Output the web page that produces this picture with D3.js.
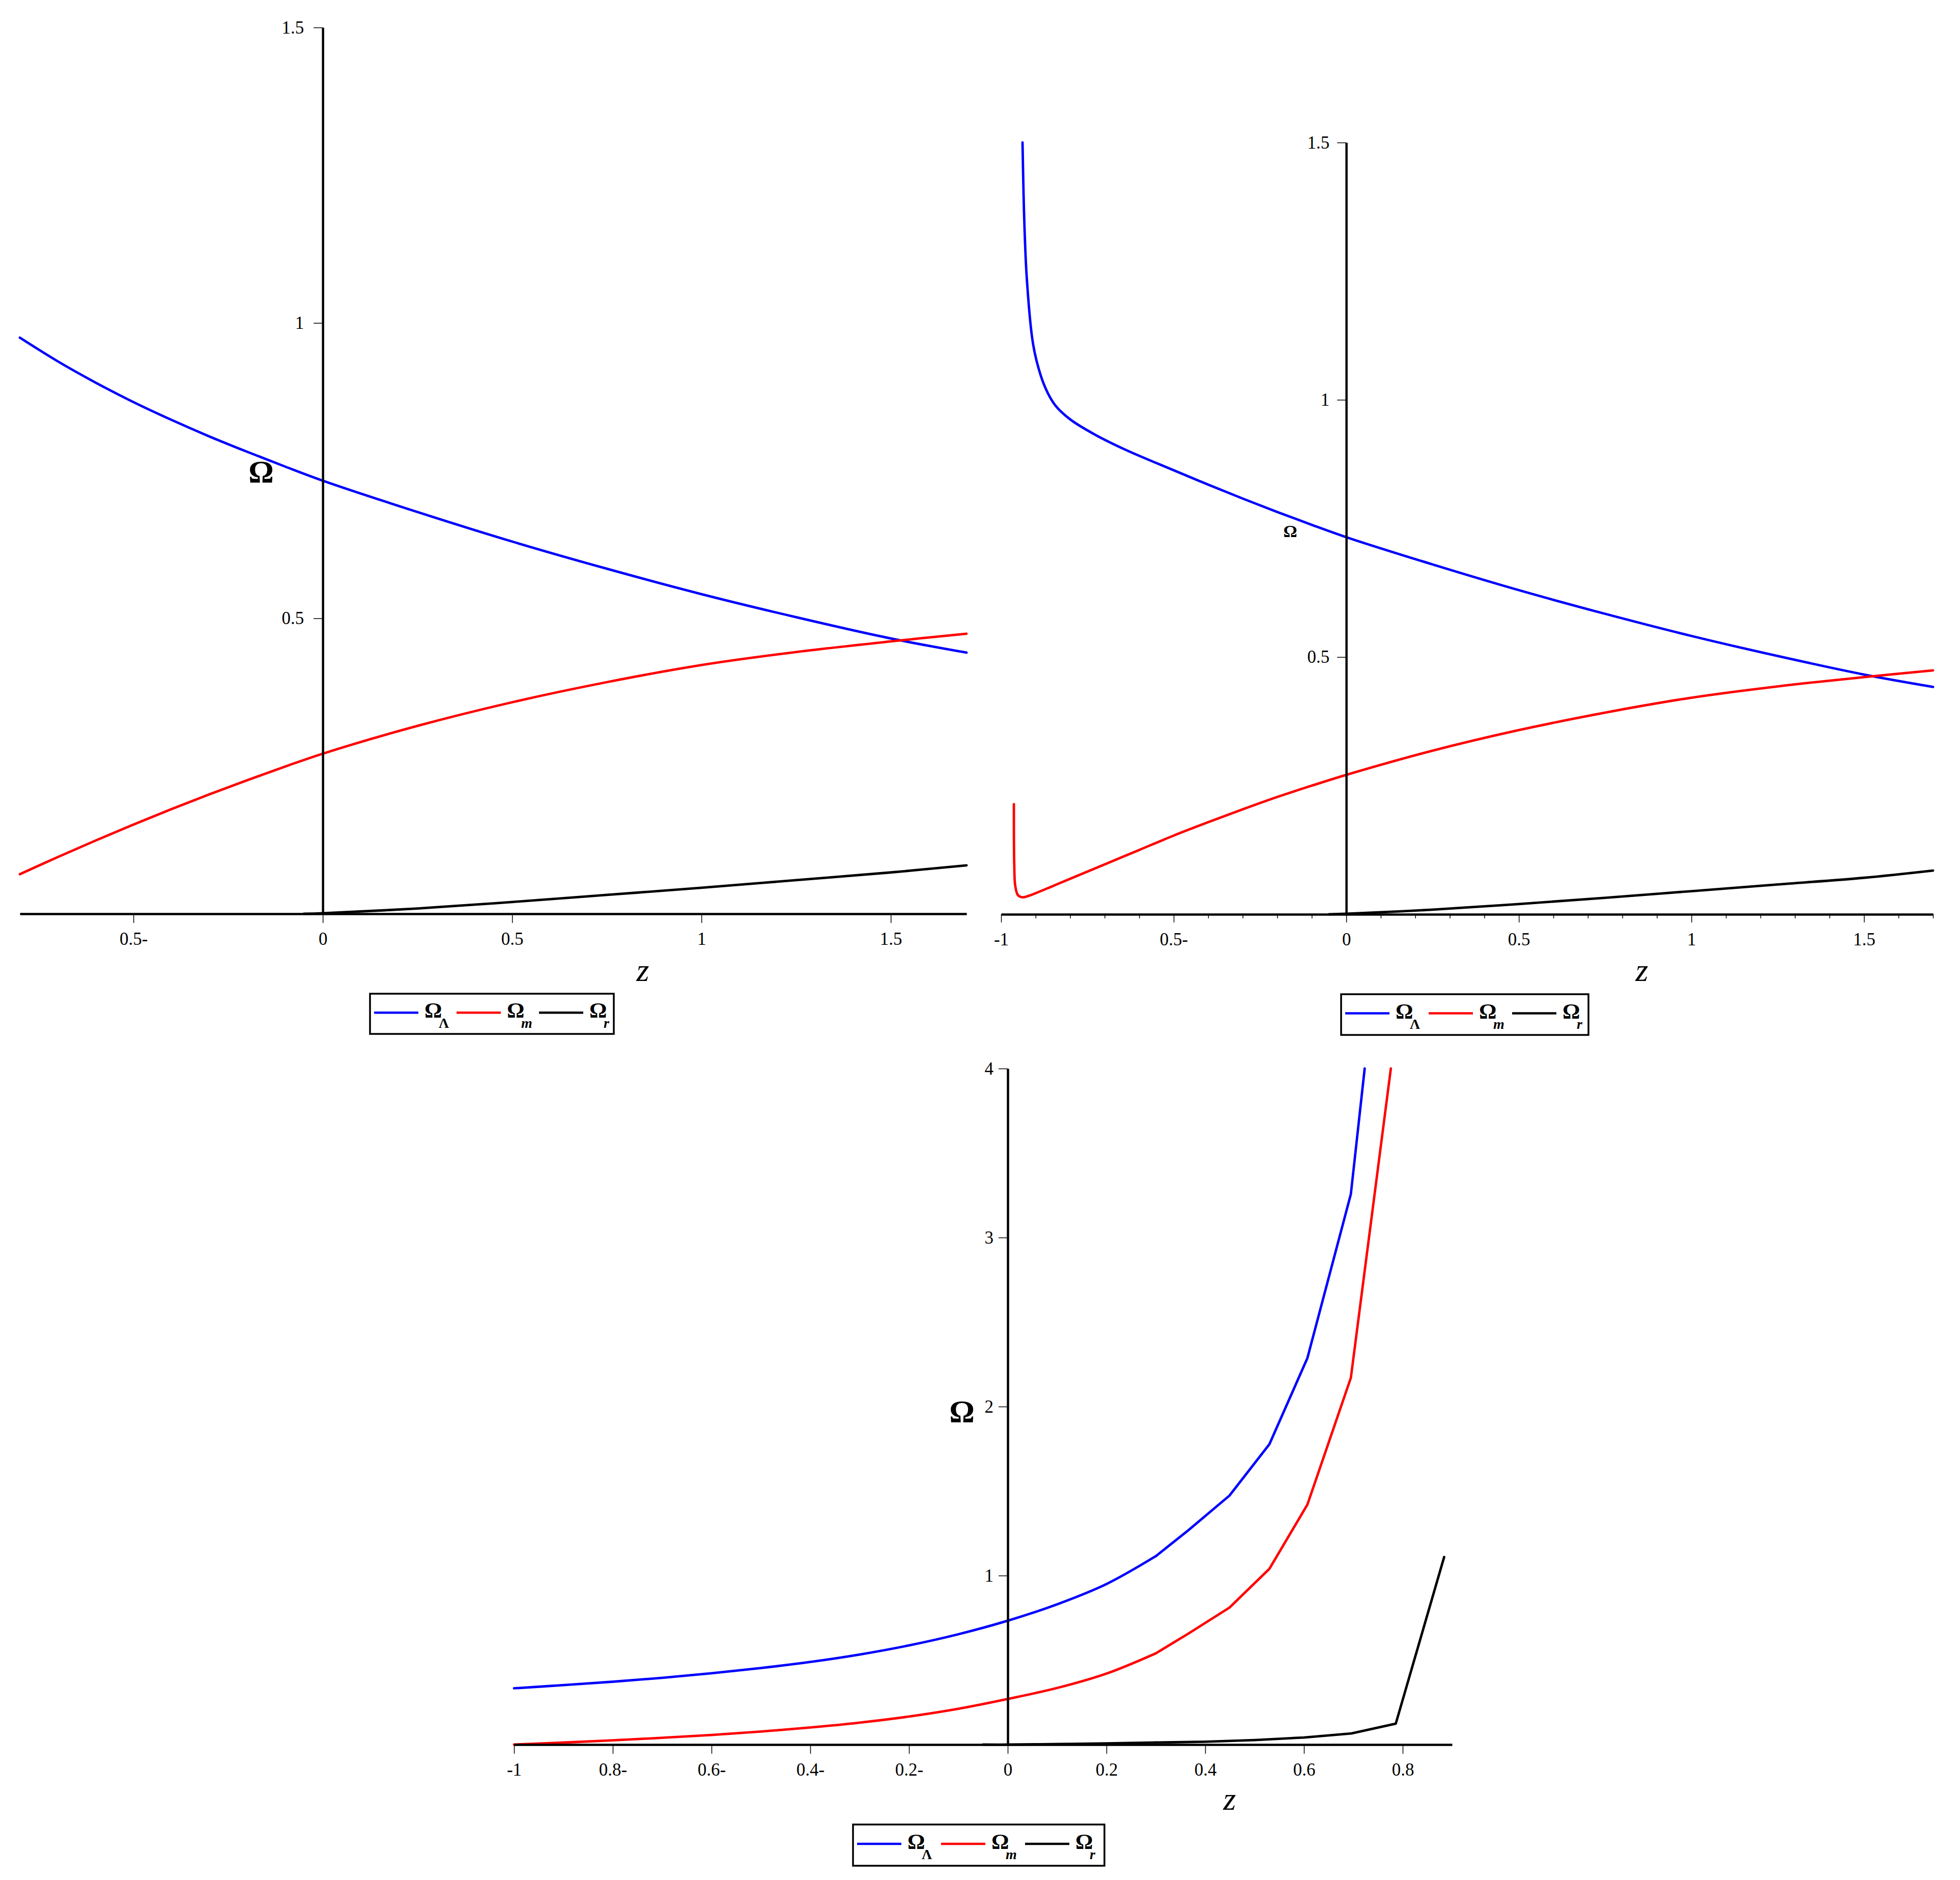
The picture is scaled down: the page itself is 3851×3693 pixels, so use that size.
<!DOCTYPE html>
<html><head><meta charset="utf-8">
<script src="https://cdn.jsdelivr.net/npm/d3@7"></script>
<style>
body{margin:0;background:#fff}
svg{display:block}
</style>
</head><body>
<svg id="c" width="3851" height="3693"></svg>
<script>
// ---------------- DATA ----------------
// Top-left panel
const tlZ      = [-0.8,-0.7,-0.6,-0.5,-0.4,-0.3,-0.2,-0.1,0,0.25,0.5,0.75,1.0,1.25,1.5,1.7];
const tlLambda = [0.975,0.935,0.899,0.866,0.836,0.808,0.782,0.757,0.733,0.680,0.630,0.584,0.541,0.502,0.466,0.442];
const tlMatter = [0.067,0.096,0.124,0.151,0.177,0.202,0.226,0.249,0.271,0.318,0.358,0.392,0.421,0.443,0.461,0.474];
const tlRadZ   = [-0.05,0,0.25,0.5,0.75,1.0,1.25,1.5,1.7];
const tlRad    = [0,0.001,0.009,0.020,0.032,0.044,0.057,0.070,0.082];
const tlXTicks  = [-0.5,0,0.5,1,1.5];
const tlXLabels = ["0.5-","0","0.5","1","1.5"];
const tlYTicks  = [0.5,1,1.5];
const tlYLabels = ["0.5","1","1.5"];

// Top-right panel
const trLambdaZ = [-0.938,-0.935,-0.932,-0.926,-0.910,-0.897,-0.873,-0.844,-0.80,-0.73,-0.64,-0.5,-0.4,-0.3,-0.2,-0.1,0,0.25,0.5,0.75,1.0,1.25,1.5,1.7];
const trLambda  = [1.50,1.40,1.33,1.24,1.12,1.075,1.025,0.990,0.962,0.933,0.903,0.863,0.835,0.808,0.782,0.757,0.733,0.680,0.630,0.584,0.541,0.502,0.466,0.442];
const trMatterZ = [-0.963,-0.962,-0.959,-0.951,-0.937,-0.92,-0.9,-0.85,-0.8,-0.7,-0.6,-0.5,-0.4,-0.3,-0.2,-0.1,0,0.25,0.5,0.75,1.0,1.25,1.5,1.7];
const trMatter  = [0.214,0.098,0.055,0.037,0.033,0.036,0.041,0.055,0.069,0.097,0.125,0.153,0.179,0.204,0.228,0.250,0.271,0.318,0.358,0.392,0.421,0.443,0.461,0.474];
const trRadZ    = [-0.05,0,0.25,0.5,0.75,1.0,1.25,1.5,1.7];
const trRad     = [0,0.001,0.009,0.020,0.032,0.045,0.058,0.071,0.085];
const trXTicks  = [-1,-0.5,0,0.5,1,1.5];
const trXLabels = ["-1","0.5-","0","0.5","1","1.5"];
const trXMinor  = [-0.9,-0.8,-0.7,-0.6,-0.4,-0.3,-0.2,-0.1,0.1,0.2,0.3,0.4,0.6,0.7,0.8,0.9,1.1,1.2,1.3,1.4,1.6,1.7];
const trYTicks  = [0.5,1,1.5];
const trYLabels = ["0.5","1","1.5"];

// Bottom panel
const bLambdaZ = [-1,-0.9,-0.8,-0.7,-0.6,-0.5,-0.4,-0.3,-0.2,-0.1,0,0.1,0.2,0.3,0.365,0.449,0.53,0.607,0.695,0.723];
const bLambda  = [0.333,0.352,0.372,0.395,0.422,0.453,0.489,0.533,0.587,0.653,0.733,0.830,0.950,1.115,1.266,1.473,1.777,2.287,3.257,4.0];
const bMatterZ = [-1,-0.9,-0.8,-0.7,-0.6,-0.5,-0.4,-0.3,-0.2,-0.1,0,0.1,0.2,0.3,0.365,0.449,0.53,0.607,0.695,0.776];
const bMatter  = [0,0.012,0.025,0.040,0.057,0.077,0.101,0.130,0.166,0.212,0.270,0.335,0.420,0.540,0.655,0.810,1.040,1.420,2.170,4.0];
const bRadZ    = [-0.05,0,0.1,0.2,0.3,0.4,0.5,0.6,0.696,0.786,0.884];
const bRad     = [0,0,0.003,0.007,0.012,0.017,0.027,0.042,0.066,0.124,1.11];
const bSmoothUpTo = 0.3;   // below this z the plotted curve is smooth, above it coarse segments
const bXTicks  = [-1,-0.8,-0.6,-0.4,-0.2,0,0.2,0.4,0.6,0.8];
const bXLabels = ["-1","0.8-","0.6-","0.4-","0.2-","0","0.2","0.4","0.6","0.8"];
const bYTicks  = [1,2,3,4];
const bYLabels = ["1","2","3","4"];

// Legend
const legendSymbols = ["Λ","m","r"];
const legendItalic  = [false,true,true];
const seriesColors  = ["#0000ff","#ff0000","#000000"];

// ---------------- DRAW ----------------
const FONT = "'Liberation Serif','Times New Roman',Times,serif";
const svg = d3.select("#c");
svg.append("rect").attr("width",3851).attr("height",3693).attr("fill","#fff");

function zip(a,b){ return a.map((v,i)=>[v,b[i]]); }

function panel(cfg){
  const x = d3.scaleLinear().domain(cfg.xDomain).range(cfg.xRange);
  const y = d3.scaleLinear().domain(cfg.yDomain).range(cfg.yRange);
  const g = svg.append("g");
  const smooth = d3.line().x(d=>x(d[0])).y(d=>y(d[1])).curve(d3.curveCatmullRom.alpha(0.5));
  const linear = d3.line().x(d=>x(d[0])).y(d=>y(d[1])).curve(d3.curveLinear);
  cfg.series.forEach((s,i)=>{
    let parts;
    if(cfg.split !== undefined){
      parts = [[smooth, s.filter(d=>d[0] <= cfg.split)], [linear, s.filter(d=>d[0] >= cfg.split)]];
      if(parts[0][1].length < 2) parts = [[linear, s]];
    } else parts = [[smooth, s]];
    parts.forEach(([gen,pts])=>{
      if(pts.length < 2) return;
      g.append("path").attr("d",gen(pts)).attr("fill","none")
       .attr("stroke",seriesColors[i]).attr("stroke-width",4.8)
       .attr("stroke-linejoin","round").attr("stroke-linecap","round");
    });
  });
  // x axis
  const ax = d3.axisBottom(x).tickValues(cfg.xTicks).tickFormat((d,i)=>cfg.xLabels[i])
      .tickSize(cfg.xTickSize).tickSizeOuter(0);
  const gx = g.append("g").attr("transform",`translate(0,${y(0)})`).call(ax);
  gx.attr("font-family",FONT).attr("font-size",35);
  gx.select(".domain").attr("stroke-width",4.5);
  gx.selectAll(".tick line").attr("stroke-width",1.5);
  gx.selectAll(".tick text").attr("y",61).attr("dy",0).attr("fill","#000");
  if(cfg.xMinor){
    const am = d3.axisBottom(x).tickValues(cfg.xMinor).tickFormat("").tickSize(8).tickSizeOuter(0);
    const gm = g.append("g").attr("transform",`translate(0,${y(0)})`).call(am);
    gm.select(".domain").remove();
    gm.selectAll(".tick line").attr("stroke-width",1.5);
  }
  // y axis
  const ay = d3.axisLeft(y).tickValues(cfg.yTicks).tickFormat((d,i)=>cfg.yLabels[i])
      .tickSize(18).tickPadding(cfg.yPad).tickSizeOuter(0);
  const gy = g.append("g").attr("transform",`translate(${x(0)},0)`).call(ay);
  gy.attr("font-family",FONT).attr("font-size",35);
  gy.select(".domain").attr("stroke-width",4.5);
  gy.selectAll(".tick line").attr("stroke-width",1.5);
  gy.selectAll(".tick text").attr("fill","#000");
  // labels
  g.append("text").attr("x",cfg.omega[0]).attr("y",cfg.omega[1]).attr("text-anchor","middle")
   .attr("font-family",FONT).attr("font-weight","bold").attr("font-size",cfg.omega[2]).text("Ω");
  g.append("text").attr("x",cfg.zlab[0]).attr("y",cfg.zlab[1]).attr("text-anchor","middle")
   .attr("font-family",FONT).attr("font-style","italic").attr("font-size",64).text("z");
  // legend
  const L = cfg.legend; // [x0,y0,w,h,spacing]
  const lg = g.append("g");
  lg.append("rect").attr("x",L[0]).attr("y",L[1]).attr("width",L[2]).attr("height",L[3])
    .attr("fill","none").attr("stroke","#000").attr("stroke-width",3.5);
  const cy = L[1] + L[3]*0.47;
  legendSymbols.forEach((sym,i)=>{
    const lx = L[0] + 8 + i*L[4];
    lg.append("line").attr("x1",lx).attr("x2",lx+87).attr("y1",cy).attr("y2",cy)
      .attr("stroke",seriesColors[i]).attr("stroke-width",4.5);
    lg.append("text").attr("x",lx+99).attr("y",cy+10).attr("font-family",FONT)
      .attr("font-weight","bold").attr("font-size",43).text("Ω");
    lg.append("text").attr("x",lx+127).attr("y",cy+30).attr("font-family",FONT)
      .attr("font-weight","bold").attr("font-style",legendItalic[i]?"italic":"normal")
      .attr("font-size",28).text(sym);
  });
}

panel({
  xDomain:[-0.8,1.7], xRange:[39,1899], yDomain:[0,1.5], yRange:[1795,54],
  series:[zip(tlZ,tlLambda), zip(tlZ,tlMatter), zip(tlRadZ,tlRad)],
  xTicks:tlXTicks, xLabels:tlXLabels, xTickSize:18,
  yTicks:tlYTicks, yLabels:tlYLabels, yPad:19,
  omega:[513,947,62], zlab:[1263,1927],
  legend:[727,1952,479,79,162]
});

panel({
  xDomain:[-1,1.7], xRange:[1967,3798], yDomain:[0,1.5], yRange:[1796,280],
  series:[zip(trLambdaZ,trLambda), zip(trMatterZ,trMatter), zip(trRadZ,trRad)],
  xTicks:trXTicks, xLabels:trXLabels, xTickSize:16, xMinor:trXMinor,
  yTicks:trYTicks, yLabels:trYLabels, yPad:15,
  omega:[2535,1055,34], zlab:[3226,1927],
  legend:[2635,1953,486,80,164]
});

panel({
  xDomain:[-1,0.9], xRange:[1010,2853], yDomain:[0,4], yRange:[3427,2099],
  split:bSmoothUpTo,
  series:[zip(bLambdaZ,bLambda), zip(bMatterZ,bMatter), zip(bRadZ,bRad)],
  xTicks:bXTicks, xLabels:bXLabels, xTickSize:18,
  yTicks:bYTicks, yLabels:bYLabels, yPad:10,
  omega:[1890,2793,62], zlab:[2416,3555],
  legend:[1676,3584,494,81,165]
});
</script>
</body></html>
